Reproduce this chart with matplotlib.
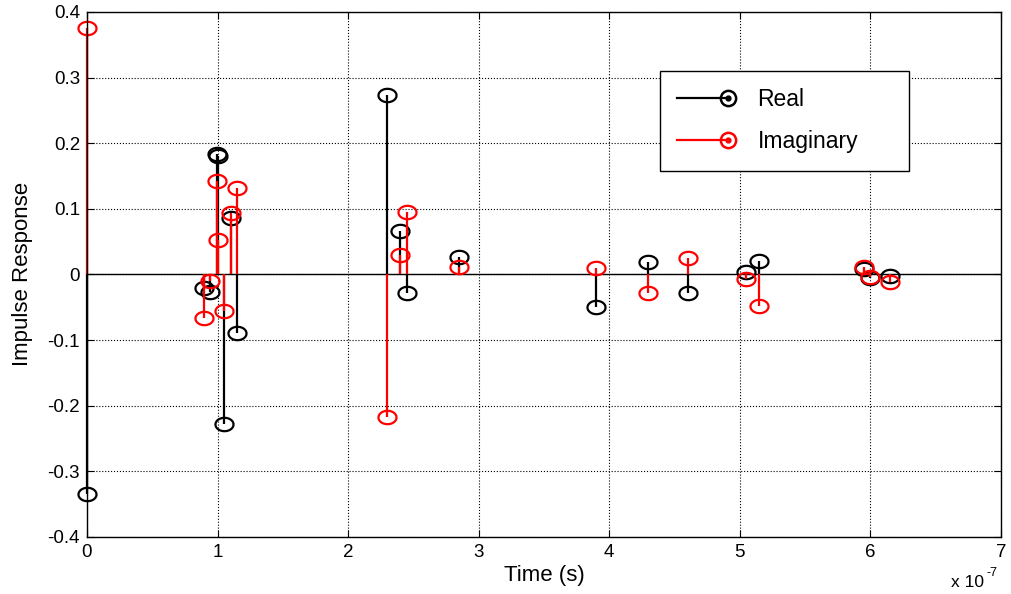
import numpy as np
import matplotlib
matplotlib.use("Agg")
from matplotlib import pyplot as plt
from matplotlib.path import Path
from matplotlib.lines import Line2D
from matplotlib.ticker import FuncFormatter

plt.rcParams['font.family'] = ['Liberation Sans', 'DejaVu Sans']
plt.rcParams['axes.unicode_minus'] = False

# tap times in units of 1e-7 s
time_e7 = [0, 0.90, 0.94, 0.995, 1.00, 1.05, 1.10, 1.15, 2.30, 2.40, 2.45, 2.85,
           3.90, 4.30, 4.60, 5.05, 5.15, 5.95, 6.00, 6.15]
real_part = [-0.335, -0.021, -0.027, 0.183, 0.180, -0.228, 0.086, -0.089, 0.273, 0.066,
             -0.029, 0.027, -0.049, 0.019, -0.028, 0.004, 0.020, 0.008, -0.005, -0.002]
imag_part = [0.375, -0.066, -0.010, 0.142, 0.052, -0.056, 0.093, 0.131, -0.217, 0.030,
             0.095, 0.012, 0.010, -0.029, 0.025, -0.007, -0.048, 0.011, -0.004, -0.011]

t = np.array(time_e7) * 1e-7

# MATLAB figure was stretched sideways -> wide oval markers
theta = np.linspace(0, 2 * np.pi, 61)
oval = Path(np.column_stack([1.35 * np.cos(theta), np.sin(theta)]))

fig = plt.figure(figsize=(10.11, 5.94), dpi=100)
ax = fig.add_axes([0.086, 0.096, 0.904, 0.884])

ax.axhline(0, color='black', lw=1.0, zorder=1)

for vals, col, name in [(real_part, 'black', 'Real'), (imag_part, 'red', 'Imaginary')]:
    ml, sl, bl = ax.stem(t, vals, linefmt='-', basefmt=' ', bottom=0, label=name)
    plt.setp(sl, color=col, linewidth=1.6, clip_on=False)
    plt.setp(ml, marker=oval, markersize=13, markerfacecolor='none',
             markeredgecolor=col, markeredgewidth=1.6, clip_on=False)
    bl.set_visible(False)

ax.set_xlim(0, 7e-7)
ax.set_ylim(-0.4, 0.4)
ax.set_xticks(np.arange(0, 8) * 1e-7)
ax.set_yticks(np.arange(-4, 5) / 10)
ax.xaxis.set_major_formatter(FuncFormatter(lambda v, p: f'{v * 1e7:g}'))
ax.yaxis.set_major_formatter(FuncFormatter(lambda v, p: f'{v:g}'))
ax.tick_params(direction='in', top=True, right=True, length=5, labelsize=13.5, pad=5)
ax.grid(True, color='black', linestyle=':', linewidth=0.8)
for s in ax.spines.values():
    s.set_color('black')
    s.set_linewidth(1.0)

ax.set_xlabel('Time (s)', fontsize=16, labelpad=3)
ax.set_ylabel('Impulse Response', fontsize=16, labelpad=10)
ax.text(0.982, -0.073, 'x 10', transform=ax.transAxes, ha='right', va='top', fontsize=12.5)
ax.text(0.984, -0.058, '-7', transform=ax.transAxes, ha='left', va='top', fontsize=9)


class EndMarker:
    def legend_artist(self, legend, orig, fontsize, handlebox):
        x0, y0 = handlebox.xdescent, handlebox.ydescent
        w, h = handlebox.width, handlebox.height
        c = orig.get_color()
        ln = Line2D([x0, x0 + w], [y0 + h / 2] * 2, color=c, lw=1.6,
                    marker='o', markevery=[1], mfc='none', mec=c, ms=11, mew=1.8,
                    transform=handlebox.get_transform())
        dot = Line2D([x0 + w], [y0 + h / 2], marker='o', color=c, ms=3.5,
                     transform=handlebox.get_transform())
        handlebox.add_artist(ln)
        handlebox.add_artist(dot)
        return ln


handles = [Line2D([], [], color='black'), Line2D([], [], color='red')]
leg = ax.legend(handles, ['Real', 'Imaginary'], handler_map={Line2D: EndMarker()},
                loc='upper left', bbox_to_anchor=(0.627, 0.888, 0.273, 0.0), mode='expand',
                fontsize=16.5, handlelength=2.2, handletextpad=1.3, borderpad=0.75,
                labelspacing=0.85, fancybox=False, framealpha=1, edgecolor='black',
                borderaxespad=0)
leg.get_frame().set_linewidth(1.0)

fig.savefig('out.png', dpi=100)
